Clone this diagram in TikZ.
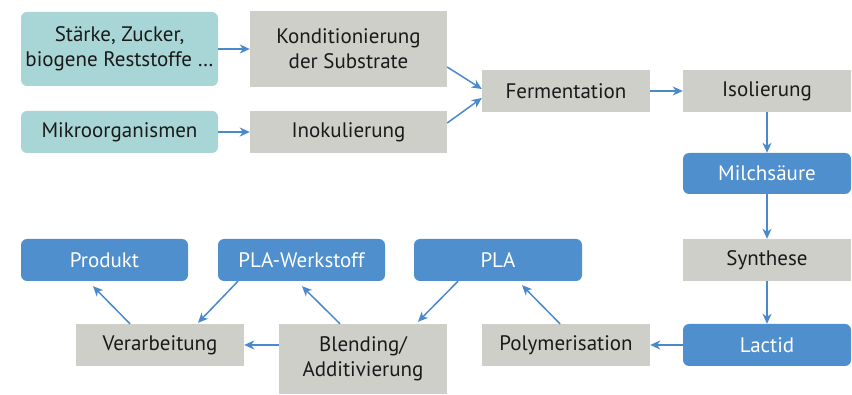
\documentclass[tikz,border=0pt]{standalone}
\usepackage{fontspec}
\setmainfont{PT Sans}
\usetikzlibrary{arrows.meta}
\definecolor{tealbox}{RGB}{168,213,213}
\definecolor{graybox}{RGB}{207,207,201}
\definecolor{bluebox}{RGB}{80,143,206}
\definecolor{arrowblue}{RGB}{74,137,204}
\definecolor{txt}{RGB}{26,26,26}
\tikzset{
  box/.style={inner sep=0pt, align=center, font=\fontsize{21}{25}\selectfont},
  tealnode/.style={box, fill=tealbox, rounded corners=6pt, text=txt},
  graynode/.style={box, fill=graybox, text=txt},
  bluenode/.style={box, fill=bluebox, rounded corners=6pt, text=white},
  conn/.style={draw=arrowblue, line width=1.5pt, -{Stealth[length=10pt,width=9pt,inset=3pt]}}
}
\begin{document}
\begin{tikzpicture}[x=1pt,y=-1pt]
\useasboundingbox (0,0) rectangle (852,395);
\node[tealnode, minimum width=197pt, minimum height=74pt] (s) at (119.5,49) {Stärke, Zucker,\\biogene Reststoffe \dots};
\node[graynode, minimum width=197pt, minimum height=76pt] (k) at (348.5,49) {Konditionierung\\der Substrate};
\node[tealnode, minimum width=197pt, minimum height=42pt] (m) at (119.5,132) {Mikroorganismen};
\node[graynode, minimum width=197pt, minimum height=42pt] (i) at (348.5,132) {Inokulierung};
\node[graynode, minimum width=168pt, minimum height=42pt] (f) at (566,91) {Fermentation};
\node[graynode, minimum width=168pt, minimum height=42pt] (iso) at (767,91) {Isolierung};
\node[bluenode, minimum width=168pt, minimum height=41pt] (ms) at (767,173.5) {Milchsäure};
\node[graynode, minimum width=168pt, minimum height=42pt] (syn) at (767,260) {Synthese};
\node[bluenode, minimum width=168pt, minimum height=42pt] (lac) at (767,345) {Lactid};
\node[graynode, minimum width=168pt, minimum height=42pt] (pol) at (566,345) {Polymerisation};
\node[bluenode, minimum width=168pt, minimum height=42pt] (pla) at (498,260) {PLA};
\node[bluenode, minimum width=167pt, minimum height=42pt] (plaw) at (301.5,260) {PLA-Werkstoff};
\node[bluenode, minimum width=167pt, minimum height=42pt] (prod) at (104.5,260) {Produkt};
\node[graynode, minimum width=168pt, minimum height=42pt] (ver) at (160,345) {Verarbeitung};
\node[graynode, minimum width=168pt, minimum height=70pt] (bl) at (363,359) {Blending/\\Additivierung};

\draw[conn] (s.east) -- (k.west);
\draw[conn] (m.east) -- (i.west);
\draw[conn] ([yshift=-18pt]k.east) -- ([yshift=2pt]f.west);
\draw[conn] ([yshift=9pt]i.east) -- ([yshift=-7pt]f.west);
\draw[conn] (f.east) -- (iso.west);
\draw[conn] (iso.south) -- (ms.north);
\draw[conn] (ms.south) -- (syn.north);
\draw[conn] (syn.south) -- (lac.north);
\draw[conn] (lac.west) -- (pol.east);
\draw[conn] ([xshift=-6pt]pol.north) -- ([xshift=24pt,yshift=-4pt]pla.south);
\draw[conn] ([xshift=-40pt]pla.south) -- ([xshift=55pt,yshift=2pt]bl.north);
\draw[conn] ([xshift=-23pt]bl.north) -- ([xshift=0.5pt,yshift=-5pt]plaw.south);
\draw[conn] ([xshift=-63.5pt]plaw.south) -- ([xshift=38pt,yshift=1pt]ver.north);
\draw[conn] ([xshift=-30pt]ver.north) -- ([xshift=-11.5pt,yshift=-5pt]prod.south);
\draw[conn] ([yshift=14pt]bl.west) -- (ver.east);
\end{tikzpicture}
\end{document}
